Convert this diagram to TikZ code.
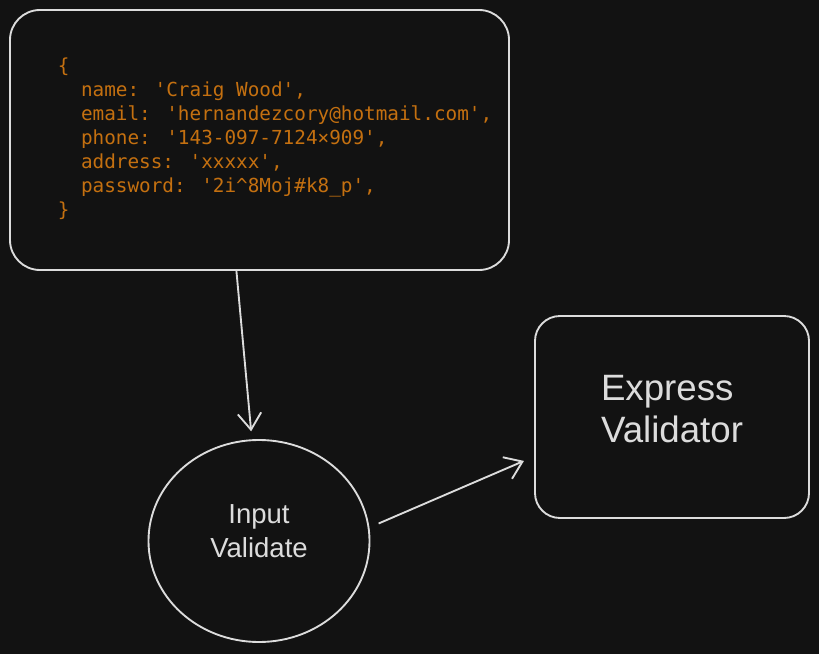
\documentclass[tikz,border=0pt]{standalone}
\usepackage{fontspec}
\setmainfont{Liberation Sans}
\newfontfamily\codefont[Ligatures=TeXOff]{DejaVu Sans Mono}
\usepackage{tikz}
\usetikzlibrary{positioning, arrows.meta, shapes.geometric}
\definecolor{canvas}{HTML}{121212}
\definecolor{ink}{HTML}{DCDCDC}
\definecolor{codeorange}{RGB}{196,112,16}
\tikzset{
  card/.style={draw=ink, line width=1.6pt, rectangle, inner sep=0pt, text=ink},
  bubble/.style={draw=ink, line width=1.6pt, ellipse, inner sep=0pt, align=center, text=ink, font=\fontsize{23.5}{29}\selectfont},
  flow/.style={draw=ink, line width=1.6pt, -{Straight Barb[length=14pt, width=20pt]}}
}

\begin{document}
\begin{tikzpicture}[x=0.03cm, y=-0.03cm]
  % Canvas
  \fill[canvas] (0,0) rectangle (819,654);
  \useasboundingbox (0,0) rectangle (819,654);

  % Request body
  \node[card, rounded corners=0.9cm, minimum width=14.97cm, minimum height=7.8cm,
        text=codeorange, font=\codefont\fontsize{16.5}{20.5}\selectfont] (code) at (259.5,140)
    {\begin{tabular}{@{}l@{}}
      \{\\
      \ \ name: 'Craig Wood',\\
      \ \ email: 'hernandezcory@hotmail.com',\\
      \ \ phone: '143-097-7124×909',\\
      \ \ address: 'xxxxx',\\
      \ \ password: '2i\^{}8Moj\#k8\_p',\\
      \}
    \end{tabular}\hspace*{-0.93cm}};

  % Validation steps
  \node[bubble, minimum width=6.63cm, minimum height=6.06cm, text depth=0.6cm] (input) at (259,541) {Input\\Validate};
  \node[card, rounded corners=0.75cm, minimum width=8.22cm, minimum height=6.06cm,
        align=left, text depth=0.48cm, font=\fontsize{31.3}{36}\selectfont] (express) at (672,417) {Express\\Validator};

  % Arrows
  \draw[flow, shorten >=0.24cm] (code.260) -- (input.94);
  \draw[flow, shorten <=0.3cm, shorten >=0.33cm] (input.7) -- (express.196);
\end{tikzpicture}
\end{document}
